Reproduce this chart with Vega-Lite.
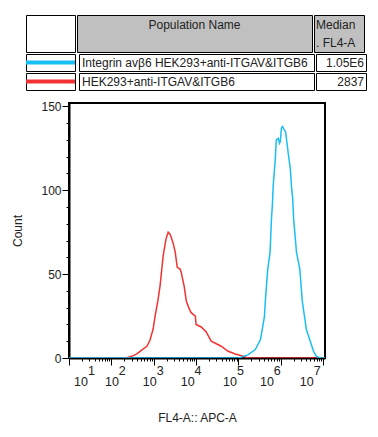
{
  "$schema": "https://vega.github.io/schema/vega-lite/v6.json",
  "padding": {"left": 10, "top": 14, "right": 5, "bottom": 5},
  "config": {
    "font": "Liberation Sans",
    "axis": {"labelFont": "Liberation Sans", "labelFontSize": 12, "labelColor": "#222", "titleFont": "Liberation Sans", "titleFontSize": 12, "titleFontWeight": "normal", "titleColor": "#222", "tickColor": "black", "domainColor": "black"},
    "text": {"font": "Liberation Sans", "fontSize": 12, "color": "#222"},
    "concat": {"spacing": 0}
  },
  "datasets": {
    "series": [
      {"name": "Integrin avβ6 HEK293+anti-ITGAV&ITGB6", "median": "1.05E6"},
      {"name": "HEK293+anti-ITGAV&ITGB6", "median": "2837"}
    ],
    "hist": [
      {"series": "HEK293+anti-ITGAV&ITGB6", "x": 10, "count": 0},
      {"series": "HEK293+anti-ITGAV&ITGB6", "x": 150, "count": 0},
      {"series": "HEK293+anti-ITGAV&ITGB6", "x": 222, "count": 0},
      {"series": "HEK293+anti-ITGAV&ITGB6", "x": 300, "count": 1},
      {"series": "HEK293+anti-ITGAV&ITGB6", "x": 400, "count": 2.5},
      {"series": "HEK293+anti-ITGAV&ITGB6", "x": 500, "count": 4.4},
      {"series": "HEK293+anti-ITGAV&ITGB6", "x": 690, "count": 7},
      {"series": "HEK293+anti-ITGAV&ITGB6", "x": 810, "count": 10.4},
      {"series": "HEK293+anti-ITGAV&ITGB6", "x": 970, "count": 17.4},
      {"series": "HEK293+anti-ITGAV&ITGB6", "x": 1075, "count": 25},
      {"series": "HEK293+anti-ITGAV&ITGB6", "x": 1250, "count": 34},
      {"series": "HEK293+anti-ITGAV&ITGB6", "x": 1410, "count": 43},
      {"series": "HEK293+anti-ITGAV&ITGB6", "x": 1670, "count": 61},
      {"series": "HEK293+anti-ITGAV&ITGB6", "x": 1950, "count": 71},
      {"series": "HEK293+anti-ITGAV&ITGB6", "x": 2190, "count": 75},
      {"series": "HEK293+anti-ITGAV&ITGB6", "x": 2400, "count": 74},
      {"series": "HEK293+anti-ITGAV&ITGB6", "x": 2580, "count": 72},
      {"series": "HEK293+anti-ITGAV&ITGB6", "x": 2900, "count": 68},
      {"series": "HEK293+anti-ITGAV&ITGB6", "x": 3220, "count": 63},
      {"series": "HEK293+anti-ITGAV&ITGB6", "x": 3580, "count": 54},
      {"series": "HEK293+anti-ITGAV&ITGB6", "x": 4190, "count": 53},
      {"series": "HEK293+anti-ITGAV&ITGB6", "x": 4450, "count": 51},
      {"series": "HEK293+anti-ITGAV&ITGB6", "x": 5200, "count": 43},
      {"series": "HEK293+anti-ITGAV&ITGB6", "x": 5870, "count": 34},
      {"series": "HEK293+anti-ITGAV&ITGB6", "x": 6700, "count": 30},
      {"series": "HEK293+anti-ITGAV&ITGB6", "x": 7630, "count": 27},
      {"series": "HEK293+anti-ITGAV&ITGB6", "x": 9570, "count": 25},
      {"series": "HEK293+anti-ITGAV&ITGB6", "x": 10000, "count": 20},
      {"series": "HEK293+anti-ITGAV&ITGB6", "x": 13200, "count": 18.5},
      {"series": "HEK293+anti-ITGAV&ITGB6", "x": 17300, "count": 15.5},
      {"series": "HEK293+anti-ITGAV&ITGB6", "x": 22700, "count": 10},
      {"series": "HEK293+anti-ITGAV&ITGB6", "x": 29900, "count": 8.5},
      {"series": "HEK293+anti-ITGAV&ITGB6", "x": 39000, "count": 7},
      {"series": "HEK293+anti-ITGAV&ITGB6", "x": 57000, "count": 4},
      {"series": "HEK293+anti-ITGAV&ITGB6", "x": 84000, "count": 2.4},
      {"series": "HEK293+anti-ITGAV&ITGB6", "x": 129000, "count": 1},
      {"series": "HEK293+anti-ITGAV&ITGB6", "x": 170000, "count": 0},
      {"series": "HEK293+anti-ITGAV&ITGB6", "x": 11000000, "count": 0},
      {"series": "Integrin avβ6 HEK293+anti-ITGAV&ITGB6", "x": 10, "count": 0},
      {"series": "Integrin avβ6 HEK293+anti-ITGAV&ITGB6", "x": 100000, "count": 0},
      {"series": "Integrin avβ6 HEK293+anti-ITGAV&ITGB6", "x": 117000, "count": 0.5},
      {"series": "Integrin avβ6 HEK293+anti-ITGAV&ITGB6", "x": 170000, "count": 2},
      {"series": "Integrin avβ6 HEK293+anti-ITGAV&ITGB6", "x": 250000, "count": 5},
      {"series": "Integrin avβ6 HEK293+anti-ITGAV&ITGB6", "x": 330000, "count": 11},
      {"series": "Integrin avβ6 HEK293+anti-ITGAV&ITGB6", "x": 390000, "count": 21.5},
      {"series": "Integrin avβ6 HEK293+anti-ITGAV&ITGB6", "x": 410000, "count": 25},
      {"series": "Integrin avβ6 HEK293+anti-ITGAV&ITGB6", "x": 430000, "count": 34},
      {"series": "Integrin avβ6 HEK293+anti-ITGAV&ITGB6", "x": 490000, "count": 53},
      {"series": "Integrin avβ6 HEK293+anti-ITGAV&ITGB6", "x": 556000, "count": 63},
      {"series": "Integrin avβ6 HEK293+anti-ITGAV&ITGB6", "x": 600000, "count": 83},
      {"series": "Integrin avβ6 HEK293+anti-ITGAV&ITGB6", "x": 630000, "count": 91},
      {"series": "Integrin avβ6 HEK293+anti-ITGAV&ITGB6", "x": 660000, "count": 103},
      {"series": "Integrin avβ6 HEK293+anti-ITGAV&ITGB6", "x": 740000, "count": 119},
      {"series": "Integrin avβ6 HEK293+anti-ITGAV&ITGB6", "x": 780000, "count": 130},
      {"series": "Integrin avβ6 HEK293+anti-ITGAV&ITGB6", "x": 870000, "count": 131},
      {"series": "Integrin avβ6 HEK293+anti-ITGAV&ITGB6", "x": 930000, "count": 128},
      {"series": "Integrin avβ6 HEK293+anti-ITGAV&ITGB6", "x": 970000, "count": 129},
      {"series": "Integrin avβ6 HEK293+anti-ITGAV&ITGB6", "x": 1030000, "count": 137},
      {"series": "Integrin avβ6 HEK293+anti-ITGAV&ITGB6", "x": 1090000, "count": 138},
      {"series": "Integrin avβ6 HEK293+anti-ITGAV&ITGB6", "x": 1200000, "count": 136},
      {"series": "Integrin avβ6 HEK293+anti-ITGAV&ITGB6", "x": 1290000, "count": 135},
      {"series": "Integrin avβ6 HEK293+anti-ITGAV&ITGB6", "x": 1350000, "count": 131},
      {"series": "Integrin avβ6 HEK293+anti-ITGAV&ITGB6", "x": 1510000, "count": 121},
      {"series": "Integrin avβ6 HEK293+anti-ITGAV&ITGB6", "x": 1670000, "count": 113},
      {"series": "Integrin avβ6 HEK293+anti-ITGAV&ITGB6", "x": 1770000, "count": 103},
      {"series": "Integrin avβ6 HEK293+anti-ITGAV&ITGB6", "x": 1900000, "count": 95},
      {"series": "Integrin avβ6 HEK293+anti-ITGAV&ITGB6", "x": 2000000, "count": 83},
      {"series": "Integrin avβ6 HEK293+anti-ITGAV&ITGB6", "x": 2340000, "count": 63},
      {"series": "Integrin avβ6 HEK293+anti-ITGAV&ITGB6", "x": 2800000, "count": 53},
      {"series": "Integrin avβ6 HEK293+anti-ITGAV&ITGB6", "x": 3200000, "count": 34},
      {"series": "Integrin avβ6 HEK293+anti-ITGAV&ITGB6", "x": 3600000, "count": 25},
      {"series": "Integrin avβ6 HEK293+anti-ITGAV&ITGB6", "x": 4000000, "count": 17},
      {"series": "Integrin avβ6 HEK293+anti-ITGAV&ITGB6", "x": 5000000, "count": 9.5},
      {"series": "Integrin avβ6 HEK293+anti-ITGAV&ITGB6", "x": 5900000, "count": 4},
      {"series": "Integrin avβ6 HEK293+anti-ITGAV&ITGB6", "x": 6900000, "count": 1},
      {"series": "Integrin avβ6 HEK293+anti-ITGAV&ITGB6", "x": 8500000, "count": 0},
      {"series": "Integrin avβ6 HEK293+anti-ITGAV&ITGB6", "x": 11000000, "count": 0}
    ]
  },
  "vconcat": [
    {
      "vconcat": [
        {
          "hconcat": [
            {
              "width": 49, "height": 37,
              "view": {"stroke": "black", "fill": "white"},
              "data": {"values": [{}]},
              "mark": {"type": "text"},
              "encoding": {"text": {"value": ""}}
            },
            {
              "width": 235, "height": 37,
              "view": {"stroke": "black", "fill": "#c0c0c0"},
              "data": {"values": [{}]},
              "mark": {"type": "text", "baseline": "top", "align": "center"},
              "encoding": {"text": {"value": "Population Name"}, "y": {"value": 5}}
            },
            {
              "width": 50, "height": 37,
              "view": {"stroke": "black", "fill": "#c0c0c0"},
              "data": {"values": [{}]},
              "mark": {"type": "text", "baseline": "top", "align": "left", "lineHeight": 18, "dx": 2},
              "encoding": {"text": {"value": ["Median", ". FL4-A"]}, "x": {"value": 0}, "y": {"value": 5}}
            }
          ]
        },
        {
          "hconcat": [
            {
              "width": 49, "height": 17,
              "view": {"stroke": "black", "fill": "white"},
              "data": {"name": "series"},
              "transform": [{"filter": {"field": "name", "equal": "Integrin avβ6 HEK293+anti-ITGAV&ITGB6"}}],
              "mark": {"type": "rule", "strokeWidth": 4, "strokeCap": "butt"},
              "encoding": {
                "y": {"field": "name", "type": "nominal", "axis": null, "scale": {"type": "point"}},
                "color": {"field": "name", "type": "nominal", "legend": null,
                  "scale": {"domain": ["Integrin avβ6 HEK293+anti-ITGAV&ITGB6", "HEK293+anti-ITGAV&ITGB6"], "range": ["#19BFF2", "#F23333"]}}
              }
            },
            {
              "width": 235, "height": 17,
              "view": {"stroke": "black", "fill": "white"},
              "data": {"name": "series"},
              "transform": [{"filter": {"field": "name", "equal": "Integrin avβ6 HEK293+anti-ITGAV&ITGB6"}}],
              "mark": {"type": "text", "align": "left", "baseline": "middle", "dx": 3},
              "encoding": {
                "y": {"field": "name", "type": "nominal", "axis": null, "scale": {"type": "point"}},
                "x": {"value": 0},
                "text": {"field": "name"}
              }
            },
            {
              "width": 50, "height": 17,
              "view": {"stroke": "black", "fill": "white"},
              "data": {"name": "series"},
              "transform": [{"filter": {"field": "name", "equal": "Integrin avβ6 HEK293+anti-ITGAV&ITGB6"}}],
              "mark": {"type": "text", "align": "right", "baseline": "middle", "dx": -2},
              "encoding": {
                "y": {"field": "name", "type": "nominal", "axis": null, "scale": {"type": "point"}},
                "x": {"value": "width"},
                "text": {"field": "median"}
              }
            }
          ]
        },
        {
          "hconcat": [
            {
              "width": 49, "height": 17,
              "view": {"stroke": "black", "fill": "white"},
              "data": {"name": "series"},
              "transform": [{"filter": {"field": "name", "equal": "HEK293+anti-ITGAV&ITGB6"}}],
              "mark": {"type": "rule", "strokeWidth": 4, "strokeCap": "butt"},
              "encoding": {
                "y": {"field": "name", "type": "nominal", "axis": null, "scale": {"type": "point"}},
                "color": {"field": "name", "type": "nominal", "legend": null,
                  "scale": {"domain": ["Integrin avβ6 HEK293+anti-ITGAV&ITGB6", "HEK293+anti-ITGAV&ITGB6"], "range": ["#19BFF2", "#F23333"]}}
              }
            },
            {
              "width": 235, "height": 17,
              "view": {"stroke": "black", "fill": "white"},
              "data": {"name": "series"},
              "transform": [{"filter": {"field": "name", "equal": "HEK293+anti-ITGAV&ITGB6"}}],
              "mark": {"type": "text", "align": "left", "baseline": "middle", "dx": 3},
              "encoding": {
                "y": {"field": "name", "type": "nominal", "axis": null, "scale": {"type": "point"}},
                "x": {"value": 0},
                "text": {"field": "name"}
              }
            },
            {
              "width": 50, "height": 17,
              "view": {"stroke": "black", "fill": "white"},
              "data": {"name": "series"},
              "transform": [{"filter": {"field": "name", "equal": "HEK293+anti-ITGAV&ITGB6"}}],
              "mark": {"type": "text", "align": "right", "baseline": "middle", "dx": -2},
              "encoding": {
                "y": {"field": "name", "type": "nominal", "axis": null, "scale": {"type": "point"}},
                "x": {"value": "width"},
                "text": {"field": "median"}
              }
            }
          ]
        }
      ]
    },
    {
      "bounds": "flush",
      "hconcat": [
        {
          "width": 43, "height": 255,
          "view": {"stroke": null},
          "data": {"values": [{}]},
          "mark": {"type": "text"},
          "encoding": {"text": {"value": ""}}
        },
        {
          "width": 256, "height": 255,
          "view": {"stroke": "black", "strokeWidth": 2},
          "data": {"name": "hist"},
          "encoding": {
            "y": {"field": "count", "type": "quantitative", "scale": {"domain": [0, 152], "nice": false},
              "axis": {
                "values": [0,10,20,30,40,50,60,70,80,90,100,110,120,130,140,150],
                "title": "Count", "titlePadding": 16,
                "labelExpr": "datum.value % 50 === 0 ? datum.label : ''",
                "labelPadding": 1, "labelOverlap": false, "labelFlush": false,
                "tickSize": {"condition": {"test": "datum.value % 50 === 0", "value": 7}, "value": 3},
                "domainWidth": 2, "grid": false
              }},
            "color": {"field": "series", "type": "nominal", "legend": null,
              "scale": {"domain": ["Integrin avβ6 HEK293+anti-ITGAV&ITGB6", "HEK293+anti-ITGAV&ITGB6"], "range": ["#19BFF2", "#F23333"]}}
          },
          "layer": [
            {
              "transform": [{"filter": {"field": "series", "equal": "HEK293+anti-ITGAV&ITGB6"}}],
              "mark": {"type": "line", "strokeWidth": 1.5, "clip": true},
              "encoding": {
                "x": {"field": "x", "type": "quantitative", "scale": {"type": "log", "domain": [10, 11000000], "nice": false},
                  "axis": {
                    "orient": "bottom",
                    "values": [10,20,30,40,50,60,70,80,90,100,200,300,400,500,600,700,800,900,1000,2000,3000,4000,5000,6000,7000,8000,9000,10000,20000,30000,40000,50000,60000,70000,80000,90000,100000,200000,300000,400000,500000,600000,700000,800000,900000,1000000,2000000,3000000,4000000,5000000,6000000,7000000,8000000,9000000,10000000],
                    "title": "FL4-A:: APC-A",
                    "titlePadding": 25,
                    "labelExpr": "abs(log(datum.value)/LN10 - round(log(datum.value)/LN10)) < 0.000001 ? '10' : ''",
                    "labelAlign": "right", "labelBaseline": "top", "labelPadding": 10,
                    "labelFontSize": 12.5,
                    "labelOverlap": false, "labelFlush": false, "labelBound": false,
                    "labelOffset": {"condition": [
                      {"test": "datum.value == 10", "value": 18.5},
                      {"test": "datum.value == 100", "value": 7},
                      {"test": "datum.value == 1000", "value": 2.5},
                      {"test": "datum.value == 10000", "value": -2},
                      {"test": "datum.value == 100000", "value": -2},
                      {"test": "datum.value == 1000000", "value": -7.5},
                      {"test": "datum.value == 10000000", "value": -10}
                    ], "value": 0},
                    "tickSize": {"condition": {"test": "abs(log(datum.value)/LN10 - round(log(datum.value)/LN10)) < 0.000001", "value": 7}, "value": 3},
                    "domainWidth": 2, "grid": false
                  }}
              }
            },
            {
              "transform": [{"filter": {"field": "series", "equal": "Integrin avβ6 HEK293+anti-ITGAV&ITGB6"}}],
              "mark": {"type": "line", "strokeWidth": 1.5, "clip": true},
              "encoding": {
                "x": {"field": "x", "type": "quantitative", "scale": {"type": "log", "domain": [10, 11000000], "nice": false},
                  "axis": {
                    "orient": "bottom",
                    "values": [10,100,1000,10000,100000,1000000,10000000],
                    "title": null,
                    "ticks": false, "domain": false, "grid": false,
                    "labelExpr": "format(round(log(datum.value)/LN10), 'd')",
                    "labelAlign": "left", "labelBaseline": "top", "labelPadding": 6,
                    "labelFontSize": 12.5,
                    "labelOverlap": false, "labelFlush": false, "labelBound": false,
                    "labelOffset": {"condition": [
                      {"test": "datum.value == 10", "value": 18.5},
                      {"test": "datum.value == 100", "value": 7},
                      {"test": "datum.value == 1000", "value": 2.5},
                      {"test": "datum.value == 10000", "value": -2},
                      {"test": "datum.value == 100000", "value": -2},
                      {"test": "datum.value == 1000000", "value": -7.5},
                      {"test": "datum.value == 10000000", "value": -10}
                    ], "value": 0}
                  }}
              }
            }
          ],
          "resolve": {"axis": {"x": "independent"}}
        }
      ]
    }
  ],
  "bounds": "flush",
  "spacing": 88
}
